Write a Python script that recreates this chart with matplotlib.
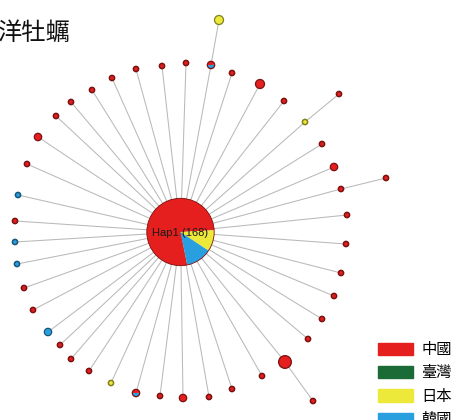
import numpy as np
import matplotlib
matplotlib.use("Agg")
import matplotlib.pyplot as plt
from matplotlib.patches import Wedge, Circle, Patch
from matplotlib.colors import to_rgb

plt.rcParams['font.family'] = ['Noto Sans CJK TC', 'DejaVu Sans']

# ---------------- data ----------------
title = "洋牡蠣"
regions = ["中國", "臺灣", "日本", "韓國"]
region_colors = ["#e41f1e", "#1b6b36", "#ece93a", "#2a9fe0"]

# haplotype network layout (x, y in layout units, y up); node 0 = Hap1
node_x = [180.5,
          186, 211, 232, 260, 284, 305, 322, 334, 341, 347, 346, 341, 334, 322, 308,
          285, 262, 232, 209, 183, 160, 136, 111, 89, 71, 60, 48, 33, 24, 17,
          15, 15, 18, 27, 38, 56, 71, 92, 112, 136, 162,
          219, 339, 386, 313]
node_y = [188,
          357, 355, 347, 336, 319, 298, 276, 253, 231, 205, 176, 147, 124, 101, 81,
          58, 44, 31, 23, 22, 24, 27, 37, 49, 61, 75, 88, 110, 132, 156,
          178, 199, 225, 256, 283, 304, 318, 330, 342, 351, 354,
          400, 326, 242, 19]
# parent of each node in the network (-1 for Hap1)
node_parent = [-1] + [0] * 41 + [2, 6, 9, 16]

# individuals per region in each haplotype
n_china = [130,
           1, 1, 1, 3, 1, 0, 1, 2, 1, 1, 1, 1, 1, 1, 1,
           6, 1, 1, 1, 2, 1, 1, 0, 1, 1, 1, 0, 1, 1, 0,
           0, 1, 0, 1, 2, 1, 1, 1, 1, 1, 1,
           0, 1, 1, 1]
n_taiwan = [0] * 46
n_japan = [17,
           0, 0, 0, 0, 0, 1, 0, 0, 0, 0, 0, 0, 0, 0, 0,
           0, 0, 0, 0, 0, 0, 0, 1, 0, 0, 0, 0, 0, 0, 0,
           0, 0, 0, 0, 0, 0, 0, 0, 0, 0, 0,
           3, 0, 0, 0]
n_korea = [21,
           0, 1, 0, 0, 0, 0, 0, 0, 0, 0, 0, 0, 0, 0, 0,
           0, 0, 0, 0, 0, 0, 1, 0, 0, 0, 0, 2, 0, 0, 1,
           1, 0, 1, 0, 0, 0, 0, 0, 0, 0, 0,
           0, 0, 0, 0]
hap1_label = "Hap1 (168)"

# ---------------- drawing ----------------
fig = plt.figure(figsize=(4.58, 4.20), dpi=100)
ax = fig.add_axes([0, 0, 1, 1])
ax.set_xlim(0, 458)
ax.set_ylim(0, 420)
ax.axis('off')

# edges
for i, p in enumerate(node_parent):
    if p < 0:
        continue
    ax.plot([node_x[p], node_x[i]], [node_y[p], node_y[i]],
            color="#b9b9b9", lw=0.75, zorder=1, solid_capstyle='butt')

# nodes as small pies (China, Korea, Japan, Taiwan counter-clockwise)
order = [0, 3, 2, 1]
for i in range(len(node_x)):
    counts = [n_china[i], n_taiwan[i], n_japan[i], n_korea[i]]
    tot = sum(counts)
    r = 2.6 * np.sqrt(tot)
    start = 3.0
    for k in order:
        if counts[k] == 0:
            continue
        ang = 360.0 * counts[k] / tot
        ax.add_patch(Wedge((node_x[i], node_y[i]), r, start, start + ang,
                           facecolor=region_colors[k], edgecolor='none', zorder=3))
        start += ang
    dom = int(np.argmax(counts))
    ec = tuple(c * 0.55 for c in to_rgb(region_colors[dom]))
    lw = 0.6 if i == 0 else (1.1 if tot == 1 else 0.9)
    ax.add_patch(Circle((node_x[i], node_y[i]), r, facecolor='none',
                        edgecolor=ec, lw=lw, zorder=4))

ax.text(node_x[0], node_y[0] - 1, hap1_label, ha='center', va='center',
        fontsize=8, family=['Liberation Sans', 'DejaVu Sans'], color='#1a1a1a', zorder=5)

# title
fig.text(-0.004, 1 - 33 / 420, title, fontsize=17.5, weight='medium',
         ha='left', va='center', color='#111111')

# legend
handles = [Patch(facecolor=c, edgecolor=c, label=l) for c, l in zip(region_colors, regions)]
leg = fig.legend(handles=handles, loc='upper left', bbox_to_anchor=(378 / 458, 1 - 341 / 420),
                 frameon=False, fontsize=11, handlelength=2.3, handleheight=0.85,
                 handletextpad=0.55, labelspacing=0.42, borderpad=0, borderaxespad=0)

fig.savefig("out.png", dpi=100)
